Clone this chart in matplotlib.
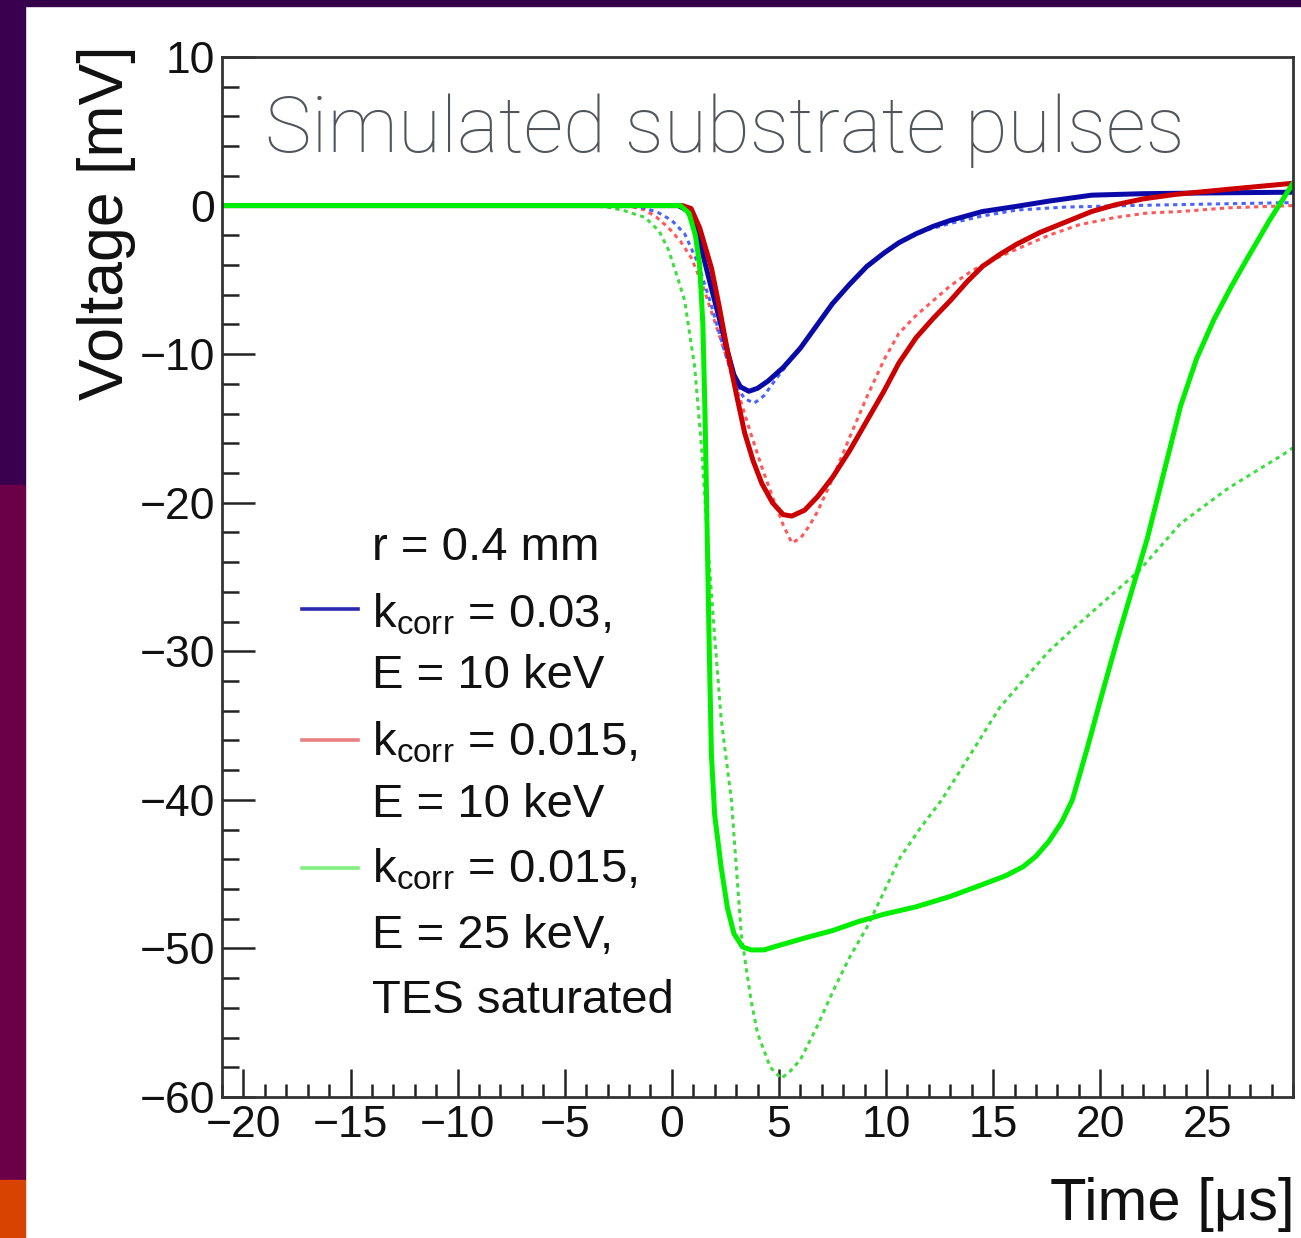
import matplotlib
matplotlib.use("Agg")
import matplotlib.pyplot as plt
import matplotlib.ticker as mticker
from matplotlib.patches import Rectangle
from matplotlib.lines import Line2D

plt.rcParams['font.family'] = ['Liberation Sans', 'DejaVu Sans']
plt.rcParams['mathtext.fontset'] = 'custom'
plt.rcParams['mathtext.rm'] = 'Liberation Sans'
plt.rcParams['mathtext.it'] = 'Liberation Sans'
plt.rcParams['axes.unicode_minus'] = True

# ---- data (time in us, voltage in mV) ----
blue_t = [-21, 0.3, 0.7, 1.0, 1.4, 1.8, 2.2, 2.6, 2.9, 3.2, 3.6, 4.0, 4.5, 5.2, 6.0, 6.8, 7.5,
          8.3, 9.1, 9.9, 10.6, 11.4, 12.2, 13.0, 14.5, 16.1, 17.6, 19.6, 22, 25, 29]
blue_v = [0, 0, -0.3, -1.0, -3.0, -5.3, -7.5, -9.8, -11.4, -12.2, -12.5, -12.3, -11.8, -10.9, -9.6,
          -8.0, -6.6, -5.3, -4.1, -3.2, -2.5, -1.9, -1.4, -1.0, -0.4, -0.05, 0.3, 0.7, 0.8, 0.85, 0.9]

blue_sim_t = [-21, -2.0, -1.2, -0.6, 0.0, 0.6, 1.2, 1.8, 2.4, 2.9, 3.4, 3.85, 4.3, 4.9, 5.6, 6.4,
              7.2, 8.0, 9.0, 10.0, 11.0, 12.0, 13.0, 14.5, 16.1, 18.4, 21.4, 25, 29]
blue_sim_v = [0, 0, -0.2, -0.5, -1.0, -1.9, -3.8, -6.5, -9.5, -11.9, -13.0, -13.3, -12.8, -11.6,
              -10.3, -8.8, -7.2, -5.8, -4.3, -3.1, -2.2, -1.6, -1.2, -0.7, -0.3, -0.1, 0.0, 0.1, 0.2]

red_t = [-21, 0.5, 0.9, 1.3, 1.85, 2.2, 2.6, 3.0, 3.4, 3.8, 4.2, 4.7, 5.2, 5.6, 6.2, 6.8, 7.5, 8.3,
         9.1, 9.9, 10.6, 11.4, 12.2, 13.0, 13.8, 14.5, 15.3, 16.1, 17.2, 18.4, 19.6, 20.7, 22.0,
         23.5, 26, 29]
red_v = [0, 0, -0.2, -1.5, -4.2, -6.7, -9.8, -12.6, -15.3, -17.2, -18.7, -20.0, -20.8, -20.9,
         -20.5, -19.6, -18.3, -16.5, -14.5, -12.5, -10.6, -8.9, -7.6, -6.4, -5.1, -4.1, -3.3, -2.6,
         -1.8, -1.1, -0.4, 0.05, 0.45, 0.75, 1.1, 1.5]

red_sim_t = [-21, -2.5, -1.8, -1.25, -0.7, -0.15, 0.4, 0.9, 1.4, 2.0, 2.6, 3.2, 3.7, 4.2, 4.7, 5.2,
             5.6, 6.0, 6.4, 6.8, 7.5, 8.3, 9.1, 9.9, 10.6, 11.4, 12.2, 13.0, 14.0, 14.9, 16.0, 17.6,
             19.0, 20.7, 22.2, 23.75, 26, 29]
red_sim_v = [0, 0, -0.1, -0.3, -0.8, -1.5, -2.4, -3.5, -5.2, -7.8, -10.4, -13.1, -15.4, -17.6,
             -19.6, -21.5, -22.7, -22.4, -21.6, -20.6, -18.4, -15.6, -12.9, -10.4, -8.6, -7.4, -6.4,
             -5.4, -4.4, -3.7, -3.0, -2.0, -1.3, -0.8, -0.5, -0.4, -0.15, 0.0]

green_t = [-21, 0.4, 0.8, 1.1, 1.3, 1.45, 1.55, 1.65, 1.75, 1.85, 2.0, 2.3, 2.6, 2.9, 3.3, 3.7, 4.3,
           5.0, 6.2, 7.5, 8.7, 9.9, 11.4, 13.0, 14.5, 15.6, 16.4, 17.0, 17.6, 18.2, 18.7, 19.4,
           20.1, 20.8, 21.5, 22.2, 23.0, 23.75, 24.5, 25.3, 26.1, 26.85, 27.9, 29]
green_v = [0, 0, -0.5, -2.0, -4.0, -8, -14, -22, -30, -37, -41, -44.5, -47.3, -49.0, -49.9, -50.1,
           -50.1, -49.8, -49.3, -48.8, -48.2, -47.7, -47.2, -46.5, -45.7, -45.1, -44.5, -43.8,
           -42.8, -41.5, -40.0, -36.5, -32.8, -29.2, -25.8, -22.4, -17.8, -13.5, -10.3, -7.7, -5.5,
           -3.6, -1.0, 1.5]

green_sim_t = [-21, -4.0, -3.0, -2.2, -1.25, -0.6, -0.15, 0.3, 0.6, 1.07, 1.4, 1.7, 2.0, 2.3, 2.78,
               3.24, 3.47, 3.7, 4.0, 4.6, 5.1, 5.5, 6.0, 6.8, 7.55, 8.3, 9.1, 9.9, 10.65, 11.6, 12.6,
               14.0, 15.3, 16.5, 17.6, 18.8, 19.9, 21.8, 23.75, 26, 28.6, 29]
green_sim_v = [0, 0, -0.1, -0.35, -0.8, -1.7, -3.0, -5.0, -6.4, -10.9, -16.5, -23.2, -29, -34.5,
               -40, -49.0, -51.3, -53.5, -55.7, -58.0, -58.75, -58.3, -57.5, -55.2, -52.8, -50.6,
               -48.6, -46.2, -43.9, -41.9, -40, -36.8, -33.8, -31.8, -30.0, -28.4, -27.0, -24.6,
               -21.4, -19.0, -16.7, -16.3]

legend_header = "r = 0.4 mm"
legend_labels = [(r"k$_{\rm corr}$ = 0.03,", "E = 10 keV"),
                 (r"k$_{\rm corr}$ = 0.015,", "E = 10 keV"),
                 (r"k$_{\rm corr}$ = 0.015,", "E = 25 keV,", "TES saturated")]

W, H = 1301, 1238
fig = plt.figure(figsize=(W / 100, H / 100), dpi=100)
fig.patch.set_facecolor('white')

# slide background strips
fig.add_artist(Rectangle((0, 1 - 6 / H), 1, 6 / H, transform=fig.transFigure,
                         color='#34004a', zorder=-10))
fig.add_artist(Rectangle((0, 1 - 485 / H), 25 / W, 485 / H, transform=fig.transFigure,
                         color='#3a004f', zorder=-10))
fig.add_artist(Rectangle((0, 1 - 1180 / H), 25 / W, 695 / H, transform=fig.transFigure,
                         color='#6c0048', zorder=-10))
fig.add_artist(Rectangle((0, 0), 25 / W, 58 / H, transform=fig.transFigure,
                         color='#d84300', zorder=-10))

ax = fig.add_axes([222 / W, 1 - 1097 / H, (1293 - 222) / W, (1097 - 57) / H])

dot = (0, (1.4, 1.4))
ax.plot(green_sim_t, green_sim_v, color='#40dd40', lw=2.2, ls=dot)
ax.plot(red_sim_t, red_sim_v, color='#ff5a5a', lw=2.2, ls=dot)
ax.plot(blue_sim_t, blue_sim_v, color='#4a63ff', lw=2.2, ls=dot)
ax.plot(blue_t, blue_v, color='#0a0aa8', lw=3.6)
ax.plot(red_t, red_v, color='#cc0000', lw=3.6)
ax.plot(green_t, green_v, color='#00ee00', lw=3.6)

ax.set_xlim(-21, 29)
ax.set_ylim(-60, 10)
ax.xaxis.set_major_locator(mticker.MultipleLocator(5))
ax.xaxis.set_minor_locator(mticker.MultipleLocator(1))
ax.yaxis.set_major_locator(mticker.MultipleLocator(10))
ax.yaxis.set_minor_locator(mticker.MultipleLocator(2))
ax.tick_params(which='both', direction='in', top=False, right=False, width=1.8,
               color='#222222', labelsize=32, labelcolor='#111111')
ax.tick_params(axis='x', which='major', length=20, pad=6)
ax.tick_params(axis='x', which='minor', length=9.5)
ax.tick_params(axis='y', which='major', length=24, pad=5)
ax.tick_params(axis='y', which='minor', length=12)
for s in ax.spines.values():
    s.set_linewidth(2.0)
    s.set_color('#333333')

fig.text(107 / W, 1 - 45 / H, "Voltage [mV]", rotation=90, ha='center', va='top',
         fontsize=45, color='#111111')
fig.text(1295 / W, 1 - 1205 / H, "Time [\u03bcs]", ha='right', va='center',
         fontsize=43, color='#111111')

ax.text(0.040, 0.9087, "Simulated substrate pulses", transform=ax.transAxes,
        fontsize=56.5, family=['Roboto', 'DejaVu Sans'], fontweight='light',
        color='#50555c', va='baseline', ha='left')

# legend drawn by hand, ROOT style
tx = 0.140
baselines = [0.4519, 0.3933, 0.3288, 0.2692, 0.2058, 0.1433, 0.0808]
ax.text(tx, 0.5163, legend_header, transform=ax.transAxes, fontsize=34, va='baseline',
        color='#111111')
handle_y = [0.4692, 0.3433, 0.2202]
handle_c = ['#2a2ab0', '#e88080', '#80f080']
k = 0
for hy, hc, lines in zip(handle_y, handle_c, legend_labels):
    ax.add_line(Line2D([0.0747, 0.127], [hy, hy], transform=ax.transAxes, color=hc, lw=2.6))
    for ln in lines:
        ax.text(tx, baselines[k], ln, transform=ax.transAxes, fontsize=34, va='baseline',
                color='#111111')
        k += 1

fig.savefig("out.png", dpi=100)
